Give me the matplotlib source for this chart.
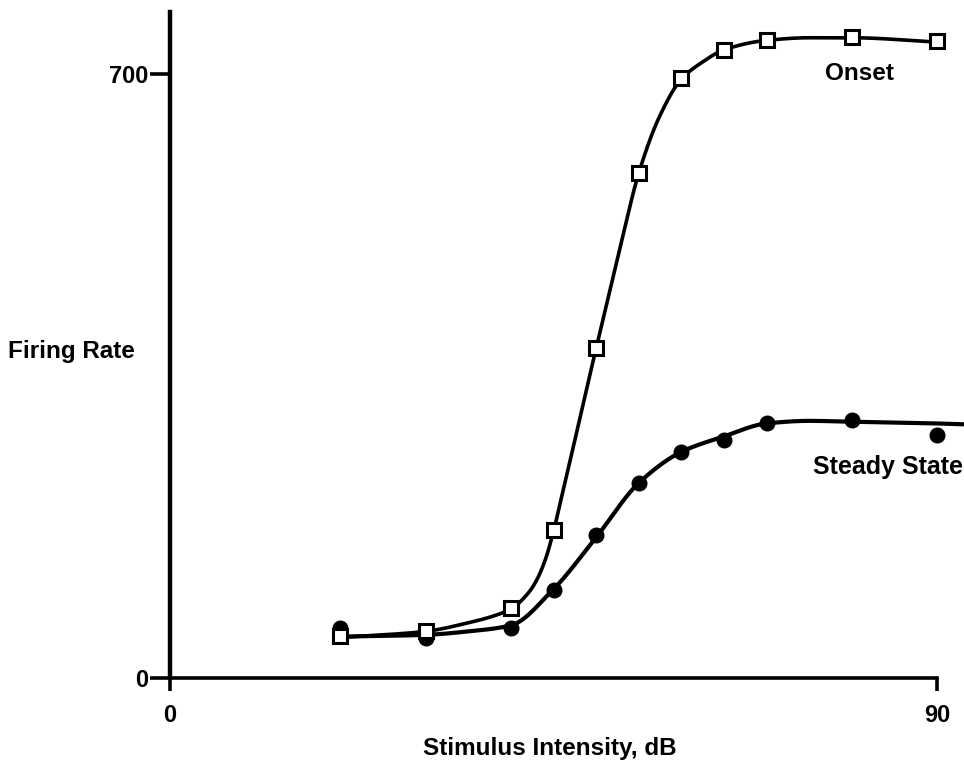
import numpy as np
import matplotlib
matplotlib.use("Agg")
import matplotlib.pyplot as plt

# ---- data ----
intensity_db = [20, 30, 40, 45, 50, 55, 60, 65, 70, 80, 90]
onset_rate = [49, 55, 81, 171, 382, 585, 695, 728, 739, 743, 738]
steady_rate = [58, 46, 58, 102, 166, 226, 262, 276, 295, 299, 282]

# fitted curves
onset_curve_x = [20, 25, 30, 35, 38, 40, 42, 43, 44, 45, 46, 47, 48, 49, 50, 52.5, 55, 57.5, 60, 62.5, 65, 70, 75, 80, 90]
onset_curve_y = [47, 50, 54, 64, 72, 80, 98, 113, 136, 170, 212, 254, 297, 340, 382, 485, 585, 652, 694, 714, 728, 739, 742, 742, 737]
steady_curve_x = [20, 30, 35, 40, 45, 50, 55, 60, 65, 70, 75, 80, 90, 93.2]
steady_curve_y = [48, 50, 54, 61, 103, 163, 226, 262, 280, 295, 298, 297, 295, 294]

x_ticks = [0, 90]
x_tick_labels = ["0", "90"]
y_ticks = [0, 700]
y_tick_labels = ["0", "700"]


def pchip(x, y, xs):
    x = np.asarray(x, float); y = np.asarray(y, float)
    h = np.diff(x); d = np.diff(y) / h
    m = np.zeros_like(y)
    for k in range(1, len(x) - 1):
        if d[k - 1] * d[k] <= 0:
            m[k] = 0
        else:
            w1 = 2 * h[k] + h[k - 1]; w2 = h[k] + 2 * h[k - 1]
            m[k] = (w1 + w2) / (w1 / d[k - 1] + w2 / d[k])
    m[0] = d[0]; m[-1] = d[-1]
    out = np.empty_like(xs)
    idx = np.clip(np.searchsorted(x, xs) - 1, 0, len(x) - 2)
    for j, (xv, i) in enumerate(zip(xs, idx)):
        t = (xv - x[i]) / h[i]
        h00 = 2 * t**3 - 3 * t**2 + 1; h10 = t**3 - 2 * t**2 + t
        h01 = -2 * t**3 + 3 * t**2; h11 = t**3 - t**2
        out[j] = h00 * y[i] + h10 * h[i] * m[i] + h01 * y[i + 1] + h11 * h[i] * m[i + 1]
    return out


FONT = ['Liberation Sans', 'DejaVu Sans']
plt.rcParams['font.family'] = FONT

W, H = 964, 763
fig = plt.figure(figsize=(W / 100, H / 100), dpi=100)
x0_px, x90_px = 170, 937
y0_px, y700_px = 678, 74
top_px = 12
right_px = 964
ax = fig.add_axes([x0_px / W, (H - y0_px) / H, (right_px - x0_px) / W, (y0_px - top_px) / H])
px_per_db = (x90_px - x0_px) / 90
px_per_unit = (y0_px - y700_px) / 700
ax.set_xlim(0, (right_px - x0_px) / px_per_db)
ax.set_ylim(0, (y0_px - top_px) / px_per_unit)

xs_on = np.linspace(onset_curve_x[0], onset_curve_x[-1], 800)
ax.plot(xs_on, pchip(onset_curve_x, onset_curve_y, xs_on), color='black', lw=2.6, clip_on=False, zorder=2)
xs_st = np.linspace(steady_curve_x[0], steady_curve_x[-1], 600)
ax.plot(xs_st, pchip(steady_curve_x, steady_curve_y, xs_st), color='black', lw=3.0, clip_on=False, zorder=2)

ax.plot(intensity_db, steady_rate, 'o', color='black', ms=10.5, zorder=3, clip_on=False)
ax.plot(intensity_db, onset_rate, 's', mfc='white', mec='black', mew=2.2, ms=10, zorder=4, clip_on=False)

for s in ['top', 'right']:
    ax.spines[s].set_visible(False)
ax.spines['left'].set_linewidth(3.2)
ax.spines['bottom'].set_linewidth(2.6)
ax.spines['bottom'].set_bounds(0, 90)

ax.set_xticks(x_ticks)
ax.set_xticklabels(x_tick_labels, fontsize=17, fontweight='bold')
ax.set_yticks(y_ticks)
ax.set_yticklabels(y_tick_labels, fontsize=17, fontweight='bold')
ax.tick_params(axis='x', direction='out', length=9, width=2.6, pad=10)
ax.tick_params(axis='y', direction='out', length=14.5, width=2.6, pad=1)

fig.text(550 / W, 1 - 748 / H, "Stimulus Intensity, dB", ha='center', va='center', fontsize=17.5, fontweight='bold')
fig.text(8 / W, 1 - 352 / H, "Firing Rate", ha='left', va='center', fontsize=17.5, fontweight='bold')
fig.text(825 / W, 1 - 74 / H, "Onset", ha='left', va='center', fontsize=17.5, fontweight='bold')
fig.text(813 / W, 1 - 467 / H, "Steady State", ha='left', va='center', fontsize=18, fontweight='bold')

fig.savefig("out.png", dpi=100)
